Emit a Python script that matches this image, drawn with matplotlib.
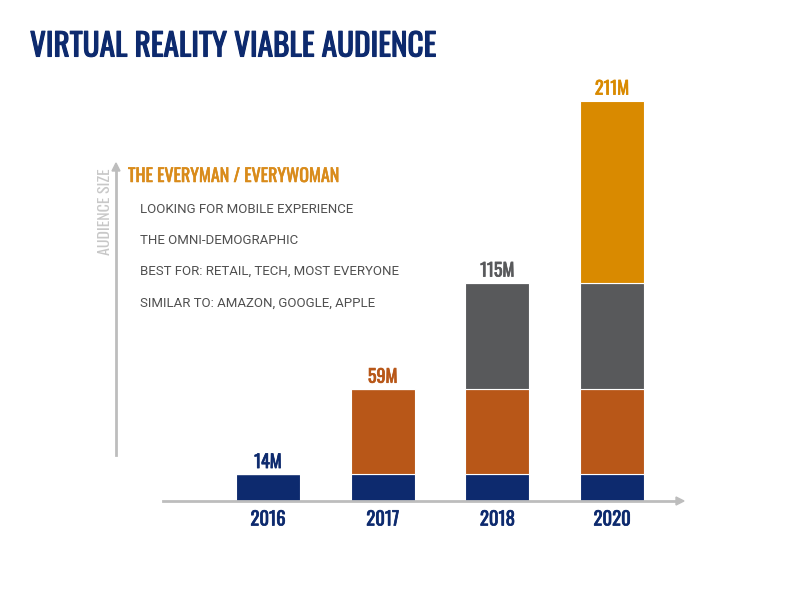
import numpy as np
import matplotlib.pyplot as plt
import matplotlib.patheffects as pe

# dati del grafico
anni = ['2016', '2017', '2018', '2020']
totali = [14, 59, 115, 211]          # milioni
etichette = ['14M', '59M', '115M', '211M']
# segmenti impilati (navy, arancio, grigio, oro)
seg_navy = [14, 14, 14, 14]
seg_arancio = [0, 45, 45, 45]
seg_grigio = [0, 0, 56, 56]
seg_oro = [0, 0, 0, 96]

titolo = 'VIRTUAL REALITY VIABLE AUDIENCE'
sottotitolo = 'THE EVERYMAN / EVERYWOMAN'
righe = ['LOOKING FOR MOBILE EXPERIENCE',
         'THE OMNI-DEMOGRAPHIC',
         'BEST FOR: RETAIL, TECH, MOST EVERYONE',
         'SIMILAR TO: AMAZON, GOOGLE, APPLE']

NAVY = '#0d2a6e'
ARANCIO = '#b85718'
GRIGIO = '#58595b'
ORO = '#d98a00'
col_lab = [NAVY, ARANCIO, GRIGIO, ORO]

cond = ['Oswald', 'DejaVu Sans']

W, H = 800, 600
fig = plt.figure(figsize=(8, 6), dpi=100)

def fx(px):
    return px / W

def fy(py):
    return 1 - py / H

def grassetto(c, lw=0.5):
    # Oswald solo regular: ispessisco il tratto
    return [pe.withStroke(linewidth=lw, foreground=c)]

# assi in pixel: sinistra 163, destra 683, base 501, alto 60
ax = fig.add_axes([fx(163), fy(501), fx(683 - 163), (501 - 60) / H])
scala = 400 / 211
passo = 114.7
ax.set_xlim(-(268 - 163) / passo, (683 - 268) / passo)
ax.set_ylim(0, 441 / scala)
ax.axis('off')

x = np.arange(len(anni))
w = 64 / passo
bottom = np.zeros(len(anni))
for seg, c in zip([seg_navy, seg_arancio, seg_grigio, seg_oro],
                  [NAVY, ARANCIO, GRIGIO, ORO]):
    seg = np.array(seg, dtype=float)
    ax.bar(x, seg, w, bottom=bottom, color=c, edgecolor='white',
           linewidth=0.8, zorder=2)
    bottom += seg

for xi, t, lab, c in zip(x, totali, etichette, col_lab):
    ax.text(xi, t + 1.8, lab, ha='center', va='bottom', color=c,
            fontsize=13, family=cond, path_effects=grassetto(c))

for xi, a in zip(x, anni):
    ax.text(xi, -5, a, ha='center', va='top', color=NAVY,
            fontsize=13.5, family=cond, path_effects=grassetto(NAVY))

# frecce asse x e asse y
fig.add_artist(plt.Line2D([fx(163), fx(676)], [fy(501), fy(501)],
                          color='#bdbdbd', lw=2))
fig.patches.append(plt.Polygon([[fx(676), fy(497)], [fx(684), fy(501)],
                                [fx(676), fy(505)]], closed=True,
                               transform=fig.transFigure, color='#bdbdbd'))
fig.add_artist(plt.Line2D([fx(116), fx(116)], [fy(455), fy(170)],
                          color='#bdbdbd', lw=2))
fig.patches.append(plt.Polygon([[fx(112), fy(171)], [fx(116), fy(163)],
                                [fx(120), fy(171)]], closed=True,
                               transform=fig.transFigure, color='#bdbdbd'))
fig.text(fx(105), fy(212), 'AUDIENCE SIZE', rotation=90, ha='center',
         va='center', color='#c8c8c8', fontsize=11.5, family=cond)

# titolo e testi
fig.text(fx(30), fy(47), titolo, ha='left', va='center', color=NAVY,
         fontsize=22.5, family=cond, path_effects=grassetto(NAVY, 0.8))
fig.text(fx(128), fy(176), sottotitolo, ha='left', va='center', color='#d98b1a',
         fontsize=13, family=cond, path_effects=grassetto('#d98b1a', 0.4))
for i, r in enumerate(righe):
    fig.text(fx(140), fy(209 + 31.3 * i), r, ha='left', va='center',
             color='#505050', fontsize=9.5, family='Roboto')

fig.savefig('out.png', dpi=100)
